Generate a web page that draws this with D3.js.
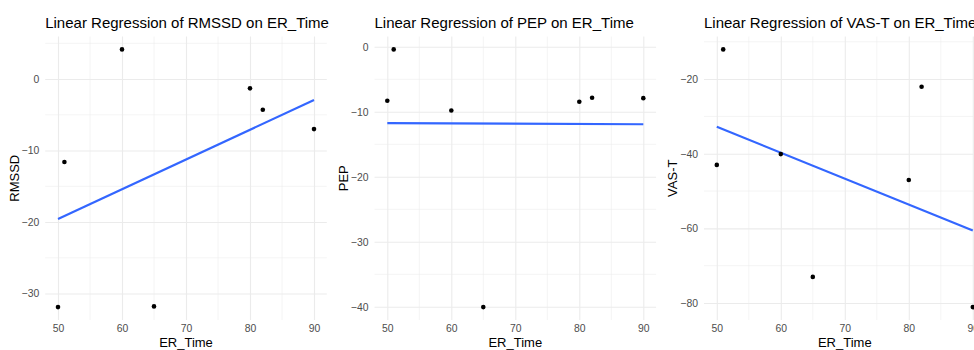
<!DOCTYPE html>
<html>
<head>
<meta charset="utf-8">
<script src="https://cdn.jsdelivr.net/npm/d3@7"></script>
<style>
  body { margin: 0; background: #fff; }
  svg { display: block; font-family: "Liberation Sans", Arial, sans-serif; }
</style>
</head>
<body>
<svg id="chart" width="974" height="350"></svg>
<script>
// data
const erTime = [50, 51, 60, 65, 80, 82, 90];
const rmssd = [-31.9, -11.6, 4.15, -31.8, -1.3, -4.3, -7.0];
const pep = [-8.3, -0.4, -9.8, -40.05, -8.46, -7.85, -7.9];
const vasT = [-43.0, -12.05, -40.1, -73.0, -47.05, -22.05, -81.1];

const xTicks = [50, 60, 70, 80, 90];
const rmssdTicks = [-30, -20, -10, 0];
const pepTicks = [-40, -30, -20, -10, 0];
const vasTicks = [-80, -60, -40, -20];

const panels = [
  { name: 'RMSSD', values: rmssd, ticks: rmssdTicks, left: 45.2, axisX: 15 },
  { name: 'PEP', values: pep, ticks: pepTicks, left: 374.5, axisX: 344 },
  { name: 'VAS-T', values: vasT, ticks: vasTicks, left: 704, axisX: 673 }
];

const panelWidth = 281.6;
const plotTop = 36.5, plotBottom = 320;

const svg = d3.select('#chart');

// ggplot-style 5% expansion
function expand(ext) {
  const pad = (ext[1] - ext[0]) * 0.05;
  return [ext[0] - pad, ext[1] + pad];
}

// plain least squares fit
function fit(xs, ys) {
  const mx = d3.mean(xs), my = d3.mean(ys);
  let sxy = 0, sxx = 0;
  xs.forEach((x, i) => { sxy += (x - mx) * (ys[i] - my); sxx += (x - mx) * (x - mx); });
  const b = sxy / sxx;
  return x => my + b * (x - mx);
}

panels.forEach(p => {
  const xScale = d3.scaleLinear()
    .domain(expand(d3.extent(erTime)))
    .range([p.left, p.left + panelWidth]);
  const yScale = d3.scaleLinear()
    .domain(expand(d3.extent(p.values)))
    .range([plotBottom, plotTop]);

  const g = svg.append('g');

  // minor grid (midpoints between major breaks)
  const step = p.ticks[1] - p.ticks[0];
  const yMinor = d3.range(p.ticks[0] - step / 2, p.ticks[p.ticks.length - 1] + step, step)
    .filter(v => v >= yScale.domain()[0] && v <= yScale.domain()[1]);
  const xMinor = [45, 55, 65, 75, 85, 95]
    .filter(v => v >= xScale.domain()[0] && v <= xScale.domain()[1]);

  g.selectAll('.ymin').data(yMinor).join('line')
    .attr('x1', p.left).attr('x2', p.left + panelWidth)
    .attr('y1', d => yScale(d)).attr('y2', d => yScale(d))
    .attr('stroke', '#ebebeb').attr('stroke-width', 0.55);
  g.selectAll('.xmin').data(xMinor).join('line')
    .attr('y1', plotTop).attr('y2', plotBottom)
    .attr('x1', d => xScale(d)).attr('x2', d => xScale(d))
    .attr('stroke', '#ebebeb').attr('stroke-width', 0.55);

  // major grid + labels through d3 axes
  g.append('g')
    .attr('transform', 'translate(' + p.left + ',0)')
    .call(d3.axisLeft(yScale).tickValues(p.ticks).tickSize(-panelWidth).tickPadding(6))
    .call(a => a.select('.domain').remove())
    .call(a => a.selectAll('.tick line').attr('stroke', '#ebebeb').attr('stroke-width', 1.1))
    .call(a => a.selectAll('.tick text').attr('fill', '#4d4d4d').style('font-size', '10.4px')
      .style('font-family', '"Liberation Sans", Arial, sans-serif'));

  g.append('g')
    .attr('transform', 'translate(0,' + plotBottom + ')')
    .call(d3.axisBottom(xScale).tickValues(xTicks).tickSize(-(plotBottom - plotTop)).tickPadding(5))
    .call(a => a.select('.domain').remove())
    .call(a => a.selectAll('.tick line').attr('stroke', '#ebebeb').attr('stroke-width', 1.1))
    .call(a => a.selectAll('.tick text').attr('fill', '#4d4d4d').style('font-size', '10.4px')
      .style('font-family', '"Liberation Sans", Arial, sans-serif'));

  // regression line
  const f = fit(erTime, p.values);
  const ends = d3.extent(erTime);
  g.append('path')
    .attr('d', d3.line().x(d => xScale(d)).y(d => yScale(f(d)))(ends))
    .attr('fill', 'none')
    .attr('stroke', '#3366ff')
    .attr('stroke-width', 2.2);

  // points
  g.selectAll('circle').data(erTime).join('circle')
    .attr('cx', d => xScale(d))
    .attr('cy', (d, i) => yScale(p.values[i]))
    .attr('r', 2.3)
    .attr('fill', '#000');

  // titles
  g.append('text')
    .attr('x', p.left)
    .attr('y', 28)
    .style('font-size', '15px')
    .attr('fill', '#000')
    .text('Linear Regression of ' + p.name + ' on ER_Time');

  g.append('text')
    .attr('x', p.left + panelWidth / 2)
    .attr('y', 347)
    .attr('text-anchor', 'middle')
    .style('font-size', '13px')
    .text('ER_Time');

  g.append('text')
    .attr('transform', 'translate(' + (p.axisX + 4) + ',' + ((plotTop + plotBottom) / 2) + ') rotate(-90)')
    .attr('text-anchor', 'middle')
    .style('font-size', '13px')
    .text(p.name);
});
</script>
</body>
</html>
